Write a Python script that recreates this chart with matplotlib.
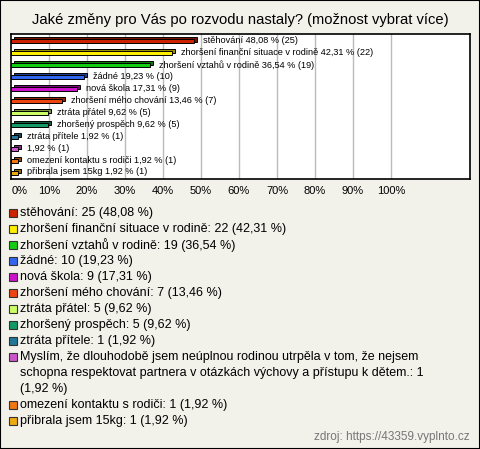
import numpy as np
import matplotlib.pyplot as plt
from matplotlib.patches import Rectangle
import matplotlib.colors as mcolors

plt.rcParams['font.family'] = ['Liberation Sans', 'DejaVu Sans']

# data
title = 'Jaké změny pro Vás po rozvodu nastaly? (možnost vybrat více)'
categories = [
    'stěhování',
    'zhoršení finanční situace v rodině',
    'zhoršení vztahů v rodině',
    'žádné',
    'nová škola',
    'zhoršení mého chování',
    'ztráta přátel',
    'zhoršený prospěch',
    'ztráta přítele',
    'Myslím, že dlouhodobě jsem neúplnou rodinou utrpěla v tom, že nejsem\n'
    'schopna respektovat partnera v otázkách výchovy a přístupu k dětem.',
    'omezení kontaktu s rodiči',
    'přibrala jsem 15kg',
]
bar_names = categories[:9] + [''] + categories[10:]
counts = [25, 22, 19, 10, 9, 7, 5, 5, 1, 1, 1, 1]
percents = [48.08, 42.31, 36.54, 19.23, 17.31, 13.46, 9.62, 9.62, 1.92, 1.92, 1.92, 1.92]
colors = ['#CC2200', '#FFEE00', '#11CC11', '#3366EE', '#CC11CC', '#EE4411',
          '#CCFF66', '#119966', '#227799', '#CC55CC', '#EE7711', '#EEAA11']
ticks = np.arange(0, 101, 10)
source = 'zdroj: https://43359.vyplnto.cz'

W, H = 480, 449
BG = '#F2F1EA'


def cz(v):
    return f'{v:.2f}'.replace('.', ',')


fig = plt.figure(figsize=(W / 100, H / 100), dpi=100, facecolor=BG)
fig.patches.append(Rectangle((0, 0), 1, 1, transform=fig.transFigure,
                             fill=False, edgecolor='black', linewidth=1.5))

fig.text(0.5, 1 - 20 / H, title, ha='center', va='center', fontsize=10.6)

# plot area
ax = fig.add_axes([11 / W, 1 - 179 / H, (470 - 11) / W, (179 - 34) / H])
ax.set_facecolor('white')
n = len(percents)
y = np.arange(n)
h = 0.34
dx, dy = 0.8, 0.16
dark = [tuple(np.array(mcolors.to_rgb(c)) * 0.6) for c in colors]
ax.barh(y - dy, percents, left=dx, height=h, color=dark,
        edgecolor='black', linewidth=0.7, zorder=2)
ax.barh(y, percents, height=h, color=colors,
        edgecolor='black', linewidth=0.7, zorder=3)
for yi, name, p, c in zip(y, bar_names, percents, counts):
    label = f'{name} {cz(p)} % ({c})' if name else f'{cz(p)} % ({c})'
    ax.text(p + 2.4, yi - 0.05, label, ha='left', va='center', fontsize=6.6, zorder=4)

ax.set_xlim(0, (470 - 11) / 3.8)
ax.set_ylim(n - 1 + 0.54, -0.62)
ax.set_xticks(ticks[1:])
ax.grid(axis='x', color='#BBBBBB', linewidth=1, zorder=0)
ax.set_axisbelow(True)
ax.tick_params(length=0, labelbottom=False, left=False, labelleft=False)
for s in ax.spines.values():
    s.set_linewidth(1.2)
for t in ticks:
    x = 11 + t * 3.8
    if t == 0:
        fig.text(12 / W, 1 - 191 / H, '0%', ha='left', va='center', fontsize=8)
    else:
        fig.text(x / W, 1 - 191 / H, f'{t}%', ha='center', va='center', fontsize=8)

# legend
row = 16
ypix = 213
for name, c, p, col in zip(categories, counts, percents, colors):
    fig.patches.append(Rectangle((9 / W, 1 - (ypix + 4) / H), 8 / W, 8 / H,
                                 transform=fig.transFigure, facecolor=col,
                                 edgecolor='#333333', linewidth=0.8))
    lines = name.split('\n')
    if len(lines) > 1:
        text_lines = lines[:-1] + [lines[-1] + f': {c}', f'({cz(p)} %)']
    else:
        text_lines = [f'{name}: {c} ({cz(p)} %)']
    for k, tl in enumerate(text_lines):
        fig.text(20 / W, 1 - (ypix + k * row) / H, tl, ha='left', va='center',
                 fontsize=9)
    ypix += row * len(text_lines)

fig.text(470 / W, 1 - 437 / H, source, ha='right', va='center', fontsize=8.5,
         color='#777777')

fig.savefig('out.png', dpi=100, facecolor=BG)
